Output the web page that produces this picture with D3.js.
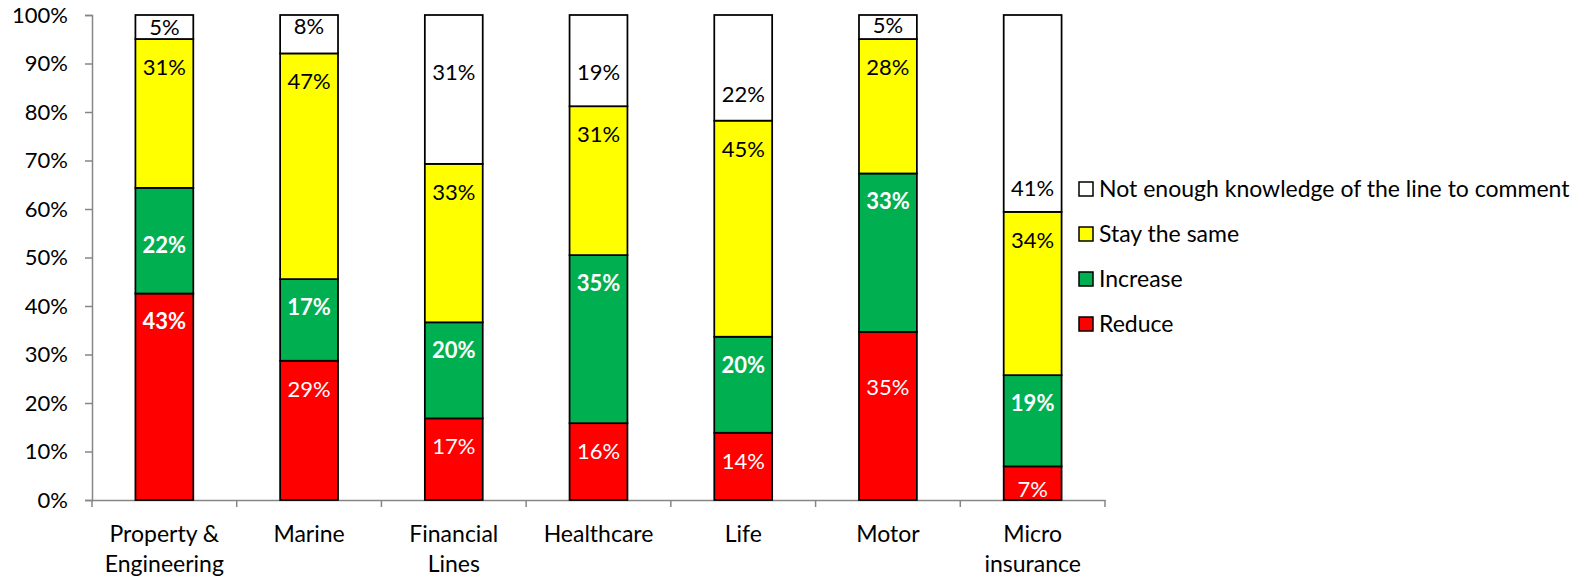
<!DOCTYPE html>
<html>
<head>
<meta charset="utf-8">
<script src="https://cdn.jsdelivr.net/npm/d3@7"></script>
<style>
  html, body { margin: 0; padding: 0; background: #fff; }
  svg { display: block; font-family: Lato, "Open Sans", sans-serif; }
</style>
</head>
<body>
<svg id="chart" width="1587" height="579"></svg>
<script>
// Outlook by line of business: share of respondents per answer
const categories = ["Property & Engineering", "Marine", "Financial Lines", "Healthcare", "Life", "Motor", "Micro insurance"];
const categoryLines = [["Property &", "Engineering"], ["Marine"], ["Financial", "Lines"], ["Healthcare"], ["Life"], ["Motor"], ["Micro", "insurance"]];
const reduce    = [43, 29, 17, 16, 14, 35, 7];
const increase  = [22, 17, 20, 35, 20, 33, 19];
const staySame  = [31, 47, 33, 31, 45, 28, 34];
const notEnough = [5, 8, 31, 19, 22, 5, 41];
const seriesNames = ["Reduce", "Increase", "Stay the same", "Not enough knowledge of the line to comment"];
const yTickValues = [0, 0.1, 0.2, 0.3, 0.4, 0.5, 0.6, 0.7, 0.8, 0.9, 1];

const seriesKeys = ["reduce", "increase", "stay", "none"];
const colors = { reduce: "#FF0000", increase: "#00B050", stay: "#FFFF00", none: "#FFFFFF" };
const labelColors = { reduce: "#FFFFFF", increase: "#FFFFFF", stay: "#000000", none: "#000000" };

const rows = categories.map((c, i) => ({
  category: c,
  reduce: reduce[i],
  increase: increase[i],
  stay: staySame[i],
  none: notEnough[i]
}));

const svg = d3.select("#chart");
const plotLeft = 92, plotRight = 1105, plotTop = 15, plotBottom = 500;

const x = d3.scaleBand().domain(categories).range([plotLeft, plotRight]).paddingInner(0.6).paddingOuter(0.3);
const y = d3.scaleLinear().domain([0, 1]).range([plotBottom, plotTop]);

const stack = d3.stack().keys(seriesKeys).offset(d3.stackOffsetExpand);
const layers = stack(rows);

// Axes
const axisColor = "#868686";
const yAxis = svg.append("g")
  .attr("transform", `translate(${plotLeft},0)`)
  .call(d3.axisLeft(y).tickValues(yTickValues).tickSize(7).tickPadding(17).tickFormat(d3.format(".0%")));
yAxis.select(".domain").attr("stroke", axisColor).attr("stroke-width", 1.5);
yAxis.selectAll(".tick line").attr("stroke", axisColor).attr("stroke-width", 1.5);
yAxis.selectAll(".tick text").attr("fill", "#000").style("font-size", "22px").style("font-family", "Lato, sans-serif");

const xAxis = svg.append("g")
  .attr("transform", `translate(0,${plotBottom})`)
  .call(d3.axisBottom(x).tickSize(0).tickFormat(""));
xAxis.select(".domain").attr("stroke", axisColor).attr("stroke-width", 1.5);

// category separators on the x axis
const step = x.step();
const edges = categories.map(c => x(c) - x.paddingOuter() * step).concat([plotRight]);
xAxis.selectAll(".sep").data(edges).join("line")
  .attr("class", "sep")
  .attr("x1", d => d).attr("x2", d => d)
  .attr("y1", 0).attr("y2", 7)
  .attr("stroke", axisColor).attr("stroke-width", 1.5);

// category labels
const catLabels = svg.append("g").selectAll("text").data(categories).join("text")
  .attr("x", d => x(d) + x.bandwidth() / 2)
  .attr("y", 542)
  .attr("text-anchor", "middle")
  .attr("fill", "#000")
  .style("font-size", "23px");
catLabels.each(function(d, i) {
  d3.select(this).selectAll("tspan").data(categoryLines[i]).join("tspan")
    .attr("x", x(d) + x.bandwidth() / 2)
    .attr("dy", (t, j) => j === 0 ? 0 : 30)
    .text(t => t);
});

// Bars
const barGroup = svg.append("g");
layers.forEach(layer => {
  barGroup.append("g").selectAll("rect").data(layer).join("rect")
    .attr("x", d => x(d.data.category))
    .attr("width", x.bandwidth())
    .attr("y", d => y(d[1]))
    .attr("height", d => y(d[0]) - y(d[1]))
    .attr("fill", colors[layer.key])
    .attr("stroke", "#000")
    .attr("stroke-width", 1.75);
});

// Data labels: placed near the top of each segment, short segments centred
const labelShift = {
  "0-increase": 29, "2-none": 29, "3-none": 29, "4-none": 51,
  "5-reduce": 27, "6-none": 145, "1-none": -8.5, "5-none": -2, "6-reduce": 5.5
};
const boldLabels = new Set(["0-reduce"]);
const labelGroup = svg.append("g");
layers.forEach(layer => {
  labelGroup.append("g").selectAll("text").data(layer).join("text")
    .attr("x", d => x(d.data.category) + x.bandwidth() / 2)
    .attr("y", (d, i) => {
      const t = y(d[1]), b = y(d[0]);
      const base = (b - t) < 56 ? (t + b) / 2 : t + 28;
      return base + (labelShift[`${i}-${layer.key}`] || 0);
    })
    .attr("dy", "0.36em")
    .attr("text-anchor", "middle")
    .attr("fill", labelColors[layer.key])
    .style("font-size", "22px")
    .style("font-weight", (d, i) => (layer.key === "increase" || boldLabels.has(`${i}-${layer.key}`)) ? "bold" : "normal")
    .text(d => d.data[layer.key] + "%");
});

// Legend (top entry first)
const legendItems = seriesKeys.map((k, i) => ({ key: k, name: seriesNames[i] })).reverse();
const legend = svg.append("g").selectAll("g").data(legendItems).join("g")
  .attr("transform", (d, i) => `translate(1079,${189 + i * 45})`);
legend.append("rect")
  .attr("x", 0).attr("y", -7).attr("width", 14).attr("height", 14)
  .attr("fill", d => colors[d.key]).attr("stroke", "#000").attr("stroke-width", 1.5);
legend.append("text")
  .attr("x", 20).attr("y", 0).attr("dy", "0.36em")
  .attr("fill", "#000")
  .style("font-size", "23px")
  .text(d => d.name);
</script>
</body>
</html>
